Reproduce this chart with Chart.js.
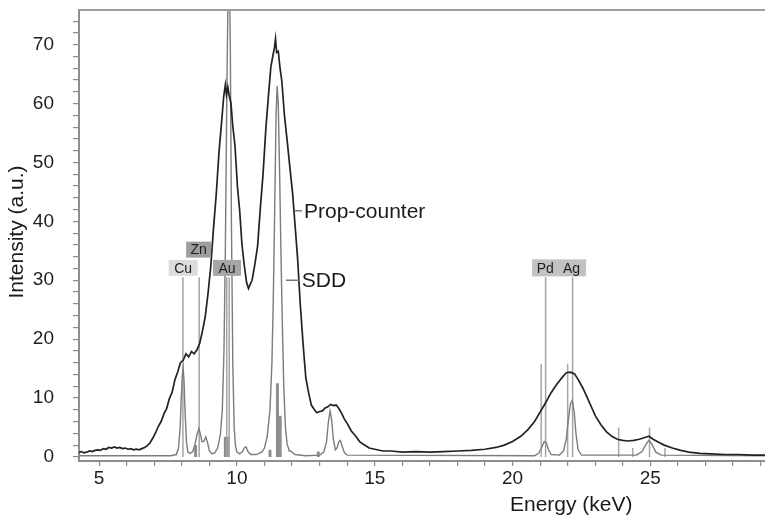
<!DOCTYPE html>
<html>
<head>
<meta charset="utf-8">
<script src="https://cdn.jsdelivr.net/npm/chart.js@4.4.1/dist/chart.umd.min.js"></script>
<style>
  html, body { margin: 0; padding: 0; background: #ffffff; }
  #wrap { width: 765px; height: 517px; }
</style>
</head>
<body>
<div id="wrap"><canvas id="c" width="765" height="517"></canvas></div>
<script>
// ---- Data ----
// Proportional counter spectrum (black, noisy)
const pcEnergy = [4.27,4.35,4.45,4.55,4.65,4.75,4.85,4.95,5.05,5.15,5.25,5.35,5.45,5.55,5.65,5.75,5.85,5.95,6.05,6.15,6.25,6.35,6.45,6.55,6.65,6.75,6.85,6.95,7.05,7.15,7.25,7.35,7.45,7.55,7.65,7.75,7.85,7.95,8.05,8.15,8.25,8.35,8.45,8.55,8.65,8.75,8.85,8.95,9.05,9.15,9.25,9.35,9.45,9.52,9.58,9.62,9.67,9.72,9.78,9.85,9.93,10.02,10.1,10.18,10.26,10.35,10.42,10.48,10.55,10.65,10.75,10.85,10.95,11.05,11.15,11.23,11.3,11.36,11.4,11.44,11.5,11.56,11.63,11.72,11.82,11.93,12.02,12.11,12.2,12.3,12.4,12.5,12.6,12.7,12.8,12.9,13.0,13.1,13.2,13.3,13.4,13.5,13.6,13.7,13.8,13.9,14.0,14.15,14.3,14.45,14.6,14.8,15.0,15.3,15.6,16.0,16.5,17.0,17.5,18.0,18.5,19.0,19.4,19.7,20.0,20.3,20.55,20.8,21.0,21.2,21.4,21.6,21.8,21.95,22.1,22.25,22.4,22.55,22.7,22.85,23.0,23.2,23.4,23.6,23.8,24.0,24.2,24.4,24.6,24.8,24.95,25.1,25.3,25.5,25.8,26.1,26.4,26.8,27.2,27.7,28.2,28.7,29.16];
const pcIntensity = [0.7,0.9,0.7,0.8,1.0,0.9,1.1,1.2,1.1,1.4,1.3,1.6,1.5,1.7,1.5,1.6,1.4,1.5,1.3,1.4,1.2,1.3,1.2,1.4,1.6,1.9,2.4,3.2,4.1,5.2,6.0,7.3,8.2,9.9,11.0,13.1,14.4,16.0,16.4,17.5,17.0,17.9,17.5,18.2,19.3,21.4,23.8,27.7,32.3,38.8,44.6,51.8,57.2,61.2,63.2,61.5,62.8,61.3,60.2,56.2,52.8,45.8,41.8,36.2,32.8,29.6,28.6,29.3,30.0,32.7,35.8,42.3,48.2,55.8,61.7,66.2,68.0,69.5,71.0,68.7,68.9,66.2,63.8,58.2,53.8,48.8,44.8,39.3,33.8,25.8,19.2,13.4,10.9,8.8,8.1,7.5,7.7,7.8,8.3,8.5,8.9,8.7,8.8,8.2,7.4,6.4,5.7,4.4,3.6,2.6,2.1,1.5,1.3,1.0,1.0,0.8,0.9,0.8,0.9,1.0,1.1,1.3,1.6,2.0,2.6,3.5,4.6,6.0,7.6,9.2,10.9,12.3,13.5,14.3,14.4,14.1,13.0,11.7,10.2,8.6,7.0,5.5,4.3,3.5,3.0,2.8,2.7,2.8,3.0,3.3,3.5,3.0,2.5,2.0,1.5,1.1,0.8,0.6,0.5,0.4,0.4,0.3,0.3];

// Silicon drift detector spectrum (grey)
const sddEnergy = [4.27,7.6,7.8,7.88,7.94,7.98,8.02,8.05,8.08,8.12,8.17,8.22,8.3,8.4,8.48,8.55,8.62,8.67,8.73,8.8,8.87,8.93,9.0,9.1,9.2,9.3,9.4,9.47,9.53,9.58,9.63,9.68,9.72,9.76,9.8,9.85,9.9,9.95,10.0,10.1,10.2,10.28,10.33,10.4,10.5,10.7,10.9,11.0,11.1,11.2,11.27,11.32,11.37,11.42,11.46,11.5,11.55,11.6,11.65,11.7,11.76,11.82,11.9,11.95,12.0,12.1,12.5,13.0,13.15,13.25,13.32,13.38,13.43,13.5,13.57,13.63,13.7,13.75,13.82,13.9,14.0,20.8,20.95,21.05,21.15,21.22,21.3,21.4,21.7,21.85,21.95,22.03,22.1,22.17,22.24,22.3,22.38,22.5,24.5,24.7,24.85,24.95,25.05,25.2,25.4,29.16];
const sddIntensity = [0.2,0.2,0.4,1.5,5.0,10.0,14.0,15.0,13.0,7.5,2.5,0.8,0.6,0.9,2.2,3.8,4.8,4.0,2.6,2.6,3.4,2.5,1.0,0.5,0.7,1.5,3.8,8.0,18,35,60,80,84,70,40,16,5,1.8,0.8,0.5,0.9,1.6,1.7,0.9,0.4,0.4,0.8,1.5,3.5,8.0,16,27,42,58,63,60,48,34,22,12,5,2.2,1.0,1.0,0.8,0.4,0.2,0.3,0.8,2.5,6,7.8,6.5,3.0,1.2,1.5,2.6,2.8,1.8,0.7,0.3,0.2,0.6,1.5,2.6,2.4,1.3,0.4,0.3,1.0,3.0,6.5,9.0,9.6,7.5,4.0,1.2,0.3,0.3,0.9,2.2,2.8,2.2,0.8,0.3,0.2];

// Element marker lines and their names
const markerEnergy = [8.04, 8.63, 9.63, 9.72, 21.2, 22.18];
const markerTop = [30.5, 30.5, 30.5, 30.5, 30.5, 30.5];
const elementNames = ['Cu', 'Zn', 'Au', 'Pd', 'Ag'];

// Thin reference sticks and thick sticks near the baseline
const stickEnergy = [21.04, 22.0, 23.85, 24.36, 24.97, 25.53];
const stickHeight = [15.8, 15.8, 5.0, 1.5, 5.0, 1.5];
const barEnergy = [8.5, 9.58, 9.65, 11.2, 11.47, 11.57, 12.95];
const barHeight = [2.0, 3.4, 3.4, 1.2, 12.5, 7.0, 0.9];

// Axis ticks
const xLabelTicks = [5, 10, 15, 20, 25];
const yLabelTicks = [0, 10, 20, 30, 40, 50, 60, 70];

// ---- Build datasets ----
function pts(xs, ys) { return xs.map((x, i) => ({ x: x, y: ys[i] })); }
function sticks(xs, hs) {
  const out = [];
  xs.forEach((x, i) => { out.push({ x: x, y: 0 }); out.push({ x: x, y: hs[i] }); out.push({ x: x, y: null }); });
  return out;
}
function isInt(v) { return Math.abs(v - Math.round(v)) < 1e-6; }
function labelFor(list) { return v => (isInt(v) && list.includes(Math.round(v))) ? String(Math.round(v)) : ''; }

const FONT = "'Liberation Sans', Arial, Helvetica, sans-serif";

const overlay = {
  id: 'overlay',
  afterDatasetsDraw(chart) {
    const { ctx, chartArea } = chart;
    const xs = chart.scales.x, ys = chart.scales.y;
    ctx.save();
    // top frame line
    ctx.strokeStyle = '#9c9c9c';
    ctx.lineWidth = 2;
    ctx.beginPath();
    ctx.moveTo(chartArea.left, chartArea.top);
    ctx.lineTo(chartArea.right, chartArea.top);
    ctx.stroke();

    // element label boxes
    const boxes = [
      { text: [elementNames[0]], tx: [8.05], cx: 8.05, cy: 32.1, w: 29, h: 16, fill: '#dcdcdc' },
      { text: [elementNames[1]], tx: [8.61], cx: 8.61, cy: 35.2, w: 25, h: 16, fill: '#9e9e9e' },
      { text: [elementNames[2]], tx: [9.64], cx: 9.64, cy: 32.1, w: 28, h: 16, fill: '#a6a6a6' },
      { text: [elementNames[3], elementNames[4]], tx: [21.19, 22.14], cx: 21.69, cy: 32.1, w: 54, h: 17, fill: '#c2c2c2' }
    ];
    ctx.font = '14px ' + FONT;
    ctx.textAlign = 'center';
    ctx.textBaseline = 'middle';
    boxes.forEach(b => {
      const px = xs.getPixelForValue(b.cx), py = ys.getPixelForValue(b.cy);
      ctx.fillStyle = b.fill;
      ctx.fillRect(px - b.w / 2, py - b.h / 2, b.w, b.h);
      ctx.fillStyle = '#1e1e1e';
      b.text.forEach((t, i) => ctx.fillText(t, xs.getPixelForValue(b.tx[i]), py + 1));
    });

    // series annotations
    ctx.font = '21px ' + FONT;
    ctx.textAlign = 'left';
    ctx.fillStyle = '#1a1a1a';
    ctx.strokeStyle = '#777777';
    ctx.lineWidth = 1.5;
    const notes = [
      { text: 'Prop-counter', x0: 12.11, x1: 12.36, y: 41.8 },
      { text: 'SDD', x0: 11.78, x1: 12.28, y: 30.0 }
    ];
    notes.forEach(n => {
      const py = ys.getPixelForValue(n.y);
      const a = xs.getPixelForValue(n.x0), b = xs.getPixelForValue(n.x1);
      ctx.beginPath(); ctx.moveTo(a, py); ctx.lineTo(b, py); ctx.stroke();
      ctx.fillText(n.text, b + 2, py + 1);
    });

    // axis titles
    ctx.font = '21px ' + FONT;
    ctx.fillStyle = '#1a1a1a';
    ctx.textAlign = 'center';
    ctx.fillText('Energy (keV)', xs.getPixelForValue(22.13), 505);
    ctx.translate(17, 232);
    ctx.rotate(-Math.PI / 2);
    ctx.fillText('Intensity (a.u.)', 0, 0);
    ctx.restore();
  }
};

new Chart(document.getElementById('c'), {
  type: 'line',
  data: {
    datasets: [
      { label: 'Prop-counter', data: pts(pcEnergy, pcIntensity), borderColor: '#222222', borderWidth: 1.7, pointRadius: 0, tension: 0 },
      { label: 'SDD', data: pts(sddEnergy, sddIntensity), borderColor: '#7c7c7c', borderWidth: 1.4, pointRadius: 0, tension: 0 },
      { label: 'markers', data: sticks(markerEnergy, markerTop), borderColor: '#a4a4a4', borderWidth: 1.5, pointRadius: 0, spanGaps: false },
      { label: 'sticks', data: sticks(stickEnergy, stickHeight), borderColor: '#a8a8a8', borderWidth: 1.5, pointRadius: 0, spanGaps: false },
      { label: 'bars', data: sticks(barEnergy, barHeight), borderColor: '#8e8e8e', borderWidth: 3, borderCapStyle: 'butt', pointRadius: 0, spanGaps: false }
    ]
  },
  options: {
    responsive: false,
    animation: false,
    layout: { padding: { top: 10, right: 0, left: 0, bottom: 0 } },
    plugins: { legend: { display: false }, tooltip: { enabled: false } },
    scales: {
      x: {
        type: 'linear', min: 4.27, max: 29.16,
        afterBuildTicks: s => { s.ticks = s.ticks.filter(t => isInt(t.value)); },
        afterFit: s => { s.height = 56; s.paddingLeft = 0; s.paddingRight = 0; },
        ticks: { stepSize: 1, includeBounds: false, autoSkip: false, maxRotation: 0, padding: 1, color: '#1e1e1e', font: { family: FONT, size: 19 },
          callback: labelFor(xLabelTicks) },
        grid: { drawOnChartArea: false, tickLength: 5, color: '#8a8a8a', lineWidth: 1.2 },
        border: { color: '#8e8e8e', width: 2 }
      },
      y: {
        min: -0.7, max: 75.9,
        afterBuildTicks: s => { s.ticks = s.ticks.filter(t => isInt(t.value)); },
        afterFit: s => { s.width = 79; s.paddingTop = 0; s.paddingBottom = 0; },
        ticks: { stepSize: 2, includeBounds: false, autoSkip: false, padding: 19, color: '#1e1e1e', font: { family: FONT, size: 19 },
          callback: labelFor(yLabelTicks) },
        grid: { drawOnChartArea: false, tickLength: 6, color: '#8a8a8a', lineWidth: 1.2 },
        border: { color: '#8e8e8e', width: 2 }
      }
    }
  },
  plugins: [overlay]
});
</script>
</body>
</html>
